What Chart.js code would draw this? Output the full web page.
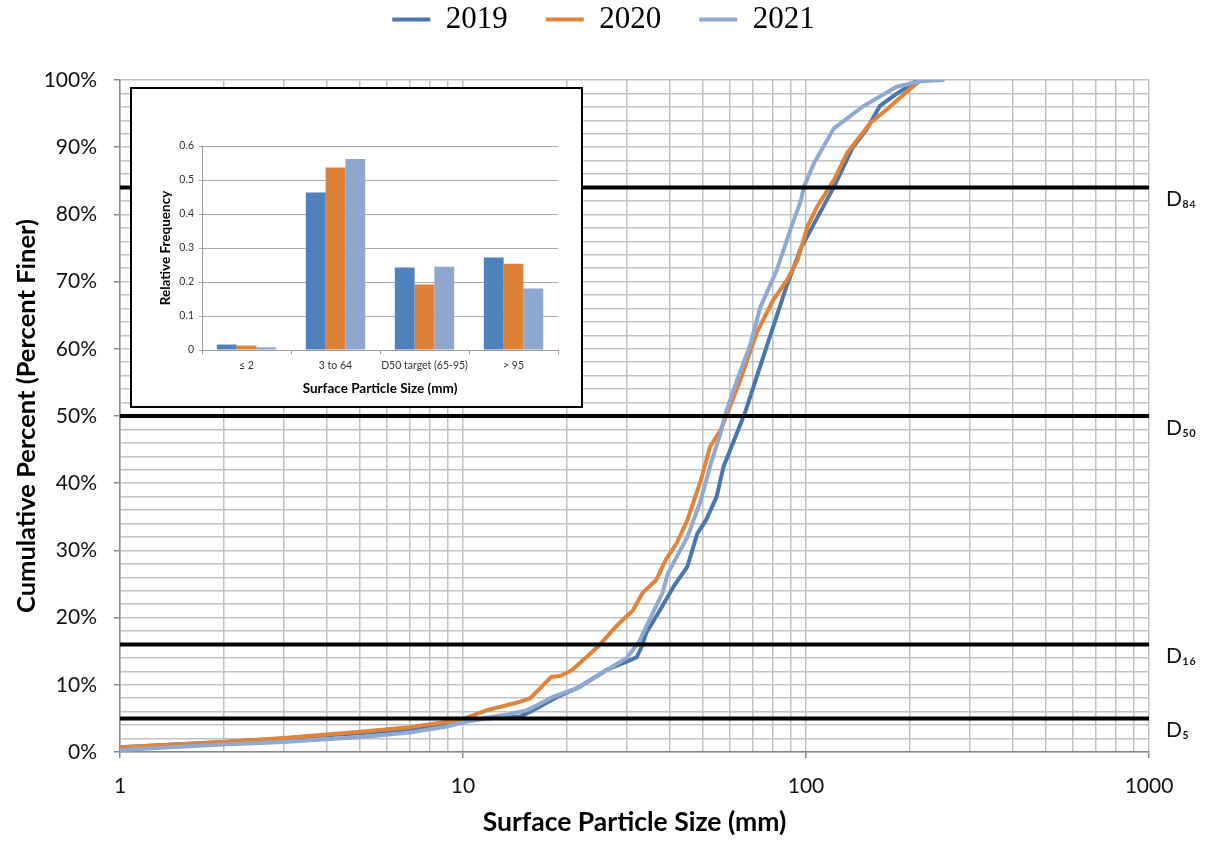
<!DOCTYPE html>
<html><head><meta charset="utf-8">
<script src="https://cdn.jsdelivr.net/npm/chart.js@4.4.1/dist/chart.umd.min.js"></script>
<style>
html,body{margin:0;padding:0;background:#fff;}
#wrap{position:relative;width:1207px;height:842px;background:#fff;}
#main{position:absolute;left:0;top:0;}
#inset{position:absolute;left:130px;top:87px;width:449px;height:317px;border:2px solid #000;background:#fff;}
#bar{display:block;}
</style></head><body>
<div id="wrap">
<canvas id="main" width="1207" height="842"></canvas>
<div id="inset"><canvas id="bar" width="449" height="317"></canvas></div>
</div>
<script>
// ---- main chart data (particle size in mm, cumulative percent finer) ----
const seriesNames = ['2019', '2020', '2021'];
const size2019 = [1, 2, 3, 4, 5, 7, 9, 10, 11.7, 13.5, 14.7, 16, 18.8, 21.9, 26.2, 29.9, 32.1, 33.2, 34.2, 37.5, 41.1, 45.1, 48.2, 51.1, 54.9, 57.5, 61.7, 66.3, 71.4, 78.5, 88, 96.7, 105, 120.6, 137, 150, 164, 179.6, 206, 211];
const pct2019  = [0.7, 1.5, 2.0, 2.5, 2.8, 3.4, 3.9, 4.5, 5.0, 5.2, 5.3, 6.2, 8.2, 9.7, 12.2, 13.4, 14.1, 15.7, 17.7, 21.1, 24.6, 27.6, 32.5, 34.5, 38.0, 42.5, 46.4, 50.4, 55.4, 61.8, 69.5, 75.0, 78.4, 84.1, 90.0, 92.6, 96.1, 97.6, 99.6, 100];
const size2020 = [1, 2, 3, 4, 5, 7, 9, 10, 11.7, 12.8, 14.5, 15.7, 16.8, 18.1, 19.2, 20.8, 22.4, 25, 27.4, 28.6, 31.3, 33.4, 36.6, 39, 42, 45.1, 49.4, 52.5, 56.4, 59, 64.4, 71.9, 80.3, 88, 94.5, 101, 107.9, 120.6, 131.6, 154, 172, 192.3, 216];
const pct2020  = [0.7, 1.5, 2.1, 2.6, 3.0, 3.7, 4.5, 4.9, 6.2, 6.7, 7.4, 8.0, 9.5, 11.2, 11.3, 12.2, 13.7, 15.9, 18.2, 19.2, 21.1, 23.7, 25.6, 28.6, 31.1, 34.5, 40.5, 45.4, 47.9, 50.4, 55.4, 62.4, 67.3, 70.2, 73.2, 78.2, 81.2, 85.1, 89.1, 93.6, 95.6, 97.8, 100];
const size2021 = [1, 2, 3, 4, 5, 7, 9, 10, 11.7, 13.5, 15.3, 16.5, 18.3, 21.5, 26.3, 30, 31.3, 32.6, 34.9, 38.2, 39.5, 45.1, 49.4, 52.5, 56.4, 58.3, 63, 68.5, 73.6, 82.2, 90, 96.7, 98.6, 105.5, 120.6, 147, 183.7, 216, 251];
const pct2021  = [0.3, 1.1, 1.5, 1.9, 2.2, 2.9, 3.8, 4.4, 5.1, 5.6, 6.2, 7.0, 8.2, 9.5, 12.2, 14.0, 15.2, 16.4, 19.6, 23.7, 26.5, 32.0, 37.5, 42.5, 47.5, 50.4, 55.4, 60.3, 66.2, 71.7, 77.7, 82.1, 84.1, 87.6, 92.8, 96.1, 99.0, 99.8, 100];
// reference percentiles
const dLevels = [5, 16, 50, 84];
const dLabels = ['D\u2085', 'D\u2081\u2086', 'D\u2085\u2080', 'D\u2088\u2084'];
// axis tick labels
const xLabelValues = [1, 10, 100, 1000];
const yLabelValues = [0, 10, 20, 30, 40, 50, 60, 70, 80, 90, 100];

// ---- inset chart data ----
const binCategories = ['\u2264 2', '3 to 64', 'D50 target (65-95)', '> 95'];
const freq2019 = [0.016, 0.463, 0.243, 0.272];
const freq2020 = [0.013, 0.537, 0.193, 0.254];
const freq2021 = [0.008, 0.562, 0.245, 0.181];

const lineColors = ['#4A76AE', '#E0843C', '#8FA9D1'];
const barColors = ['#4F81BD', '#DD8139', '#8DA7CE'];
const FONT = 'Lato, "Open Sans", "DejaVu Sans", sans-serif';

const toPts = (xs, ys) => xs.map((v, i) => ({x: v, y: ys[i]}));
const curveSizes = [size2019, size2020, size2021];
const curvePcts = [pct2019, pct2020, pct2021];

const datasets = seriesNames.map((n, i) => ({
  type: 'line', label: n, data: toPts(curveSizes[i], curvePcts[i]),
  borderColor: lineColors[i], backgroundColor: lineColors[i], borderWidth: 4,
  pointRadius: 0, tension: 0, fill: false, order: 3 - i,
  borderJoinStyle: 'round', borderCapStyle: 'round'
}));
dLevels.forEach((L, i) => datasets.push({
  type: 'line', label: dLabels[i], data: [{x: xLabelValues[0], y: L}, {x: xLabelValues[3], y: L}],
  borderColor: '#000', backgroundColor: '#000', borderWidth: 4, pointRadius: 0, order: 0, fill: false
}));

const tickGridVals = [];
for (let d = 1; d < 1000; d *= 10) for (let k = 1; k < 10; k++) tickGridVals.push(k * d);
tickGridVals.push(1000);

new Chart(document.getElementById('main'), {
  type: 'line',
  data: {datasets},
  options: {
    responsive: false, animation: false,
    layout: {padding: {top: -34, left: 0, right: 0, bottom: 0}},
    plugins: {
      tooltip: {enabled: false},
      legend: {
        position: 'top',
        labels: {
          filter: (item) => item.datasetIndex < 3,
          sort: (a, b) => a.datasetIndex - b.datasetIndex,
          usePointStyle: true, pointStyle: 'line', pointStyleWidth: 38,
          padding: 38, color: '#000',
          font: {family: '"Liberation Serif", "Times New Roman", serif', size: 31}
        }
      }
    },
    scales: {
      x: {
        type: 'logarithmic', min: 1, max: 1000, position: 'bottom',
        afterBuildTicks: (s) => { s.ticks = tickGridVals.map(v => ({value: v})); },
        ticks: {
          autoSkip: false, maxRotation: 0, minRotation: 0, padding: 16,
          callback: (v) => xLabelValues.includes(v) ? String(v) : '',
          font: {family: FONT, size: 21}, color: '#111'
        },
        grid: {color: '#c2c2c2', lineWidth: 1.5, tickLength: 6,
          tickColor: (c) => (c.tick && xLabelValues.includes(c.tick.value)) ? '#8a8a8a' : 'rgba(0,0,0,0)'},
        border: {color: '#8a8a8a', width: 1.5},
        title: {display: true, text: 'Surface Particle Size (mm)', color: '#000',
          font: {family: FONT, size: 26.5, weight: 'bold'}, padding: {top: 0, bottom: 4}},
        afterFit: (s) => { s.height = 90; }
      },
      xTop: {
        type: 'linear', position: 'top', display: true,
        grid: {display: false, drawTicks: false}, border: {display: false},
        ticks: {display: false},
        afterFit: (s) => { s.height = 35; }
      },
      y: {
        type: 'linear', min: 0, max: 100, position: 'left',
        ticks: {stepSize: 2, autoSkip: false, padding: 17,
          callback: (v) => yLabelValues.includes(v) ? v + '%' : '',
          font: {family: FONT, size: 21}, color: '#111'},
        grid: {color: '#c2c2c2', lineWidth: 1.5, tickLength: 6,
          tickColor: (c) => (c.tick && yLabelValues.includes(c.tick.value)) ? '#8a8a8a' : 'rgba(0,0,0,0)'},
        border: {color: '#8a8a8a', width: 1.5},
        title: {display: true, text: 'Cumulative Percent (Percent Finer)', color: '#000',
          font: {family: FONT, size: 25.5, weight: 'bold'}, padding: {top: 11, bottom: 0}},
        afterFit: (s) => { s.width = 120; }
      },
      y2: {
        type: 'linear', min: 0, max: 100, position: 'right',
        afterBuildTicks: (s) => { s.ticks = dLevels.map(v => ({value: v})); },
        ticks: {autoSkip: false, padding: 17, labelOffset: 12,
          callback: (v) => dLabels[dLevels.indexOf(v)],
          font: {family: FONT, size: 21}, color: '#111'},
        grid: {display: false, drawTicks: false, drawOnChartArea: false},
        border: {display: false},
        afterFit: (s) => { s.width = 58; }
      }
    }
  }
});

// ---- inset bar chart ----
const freqs = [freq2019, freq2020, freq2021];
new Chart(document.getElementById('bar'), {
  type: 'bar',
  data: {
    labels: binCategories,
    datasets: seriesNames.map((n, i) => ({
      label: n, data: freqs[i], backgroundColor: barColors[i], borderWidth: 0,
      categoryPercentage: 0.667, barPercentage: 1.0
    }))
  },
  options: {
    responsive: false, animation: false,
    layout: {padding: {top: 57, right: 23, left: 0, bottom: 0}},
    plugins: {legend: {display: false}, tooltip: {enabled: false}},
    scales: {
      x: {
        grid: {display: true, drawOnChartArea: false, color: '#9a9a9a', tickLength: 4, offset: true},
        border: {color: '#9a9a9a', width: 1},
        ticks: {autoSkip: false, font: {family: FONT, size: 10.5}, color: '#333', padding: 5, maxRotation: 0, minRotation: 0},
        title: {display: true, text: 'Surface Particle Size (mm)', color: '#000',
          font: {family: FONT, size: 13.5, weight: 'bold'}, padding: {top: 0, bottom: 9}},
        afterFit: (s) => { s.height = 56; }
      },
      y: {
        min: 0, max: 0.6,
        ticks: {stepSize: 0.1, font: {family: FONT, size: 10.5}, color: '#333', padding: 5},
        grid: {color: '#a8a8a8', lineWidth: 1, tickLength: 3},
        border: {color: '#9a9a9a', width: 1},
        title: {display: true, text: 'Relative Frequency', color: '#000',
          font: {family: FONT, size: 13.5, weight: 'bold'}, padding: {top: 26, bottom: 0}},
        afterFit: (s) => { s.width = 70; }
      }
    }
  }
});
</script>
</body></html>
